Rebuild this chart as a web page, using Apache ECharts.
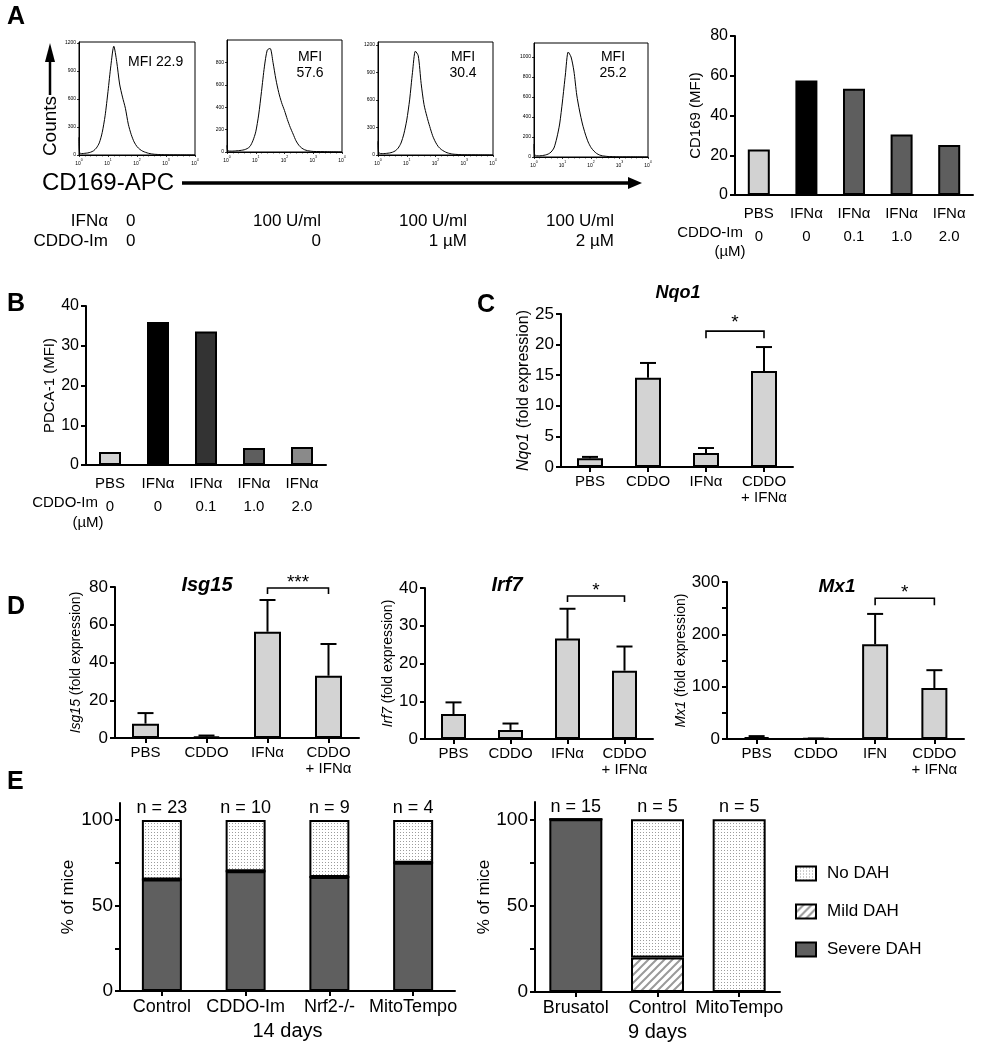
<!DOCTYPE html>
<html><head><meta charset="utf-8">
<script src="https://cdn.jsdelivr.net/npm/echarts@6/dist/echarts.min.js"></script>
<style>html,body{margin:0;padding:0;background:#fff}#c{width:982px;height:1050px}</style>
</head><body><div id="c"></div>
<script>
// ---------------- DATA ----------------
// Panel A histograms (x in log10 units of CD169-APC fluorescence, y = counts)
const histLogX = [0, 0.02, 0.1, 0.2, 0.3, 0.4, 0.5, 0.6, 0.7, 0.8, 0.9, 1.0, 1.1, 1.2, 1.3, 1.4, 1.5, 1.6, 1.7, 1.8, 1.9, 2.0, 2.1, 2.2, 2.3, 2.4, 2.5, 2.6, 2.7, 2.8, 2.9, 3.0, 3.5, 4.0];
const histPBS   = [190, 25, 15, 18, 22, 30, 45, 75, 130, 240, 420, 680, 960, 1165, 1000, 760, 620, 500, 330, 220, 140, 90, 60, 40, 28, 18, 12, 8, 6, 4, 3, 2, 1, 0];
const histIFN   = [60, 15, 8, 8, 10, 12, 15, 20, 30, 50, 100, 180, 330, 540, 760, 910, 925, 800, 650, 530, 440, 370, 290, 220, 160, 100, 60, 35, 20, 12, 8, 5, 2, 0];
const histCDDO1 = [150, 30, 15, 15, 18, 22, 30, 45, 75, 130, 230, 380, 600, 900, 1130, 1080, 780, 550, 420, 310, 210, 140, 90, 60, 40, 25, 16, 10, 7, 5, 3, 2, 1, 0];
const histCDDO2 = [130, 25, 12, 12, 15, 20, 30, 50, 90, 190, 330, 560, 820, 1050, 1000, 860, 620, 460, 330, 230, 150, 95, 60, 35, 20, 12, 8, 5, 4, 3, 2, 1, 1, 0];
const histYMax   = [1210, 1000, 1230, 1140];
const histYTicks = [[0, 300, 600, 900, 1200], [0, 200, 400, 600, 800], [0, 300, 600, 900, 1200], [0, 200, 400, 600, 800, 1000]];
const histXTicks = [0, 1, 2, 3, 4];
const histMFI    = ['MFI 22.9', 'MFI\n57.6', 'MFI\n30.4', 'MFI\n25.2'];
const aIFNrow    = ['0', '100 U/ml', '100 U/ml', '100 U/ml'];
const aCDDOrow   = ['0', '0', '1 µM', '2 µM'];

// Panel A bar chart & panel B
const abCats   = ['PBS', 'IFNα', 'IFNα', 'IFNα', 'IFNα'];
const abDose   = ['0', '0', '0.1', '1.0', '2.0'];
const aCD169   = [22.9, 57.6, 53.5, 30.4, 25.2];
const bPDCA1   = [3.3, 36.0, 33.6, 4.3, 4.5];
const aYTicks  = [0, 20, 40, 60, 80];
const bYTicks  = [0, 10, 20, 30, 40];

// Panel C
const cCats    = ['PBS', 'CDDO', 'IFNα', 'CDDO\n+ IFNα'];
const nqo1     = [1.45, 14.6, 2.3, 15.7];
const nqo1Err  = [0.2, 2.4, 0.8, 3.9];
const cBracket = [[2, 3, 22.2]];
const cStars   = ['*'];

// Panel D
const dCats    = ['PBS', 'CDDO', 'IFNα', 'CDDO\n+ IFNα'];
const d3Cats   = ['PBS', 'CDDO', 'IFN', 'CDDO\n+ IFNα'];
const isg15    = [7.6, 0.8, 56.3, 33.0];
const isg15Err = [5.6, 0.5, 16.8, 16.8];
const irf7     = [6.6, 2.4, 26.6, 18.1];
const irf7Err  = [3.1, 1.7, 7.9, 6.4];
const mx1      = [3.5, 0.6, 181, 97.5];
const mx1Err   = [2.0, 0.4, 58, 34];
const d1Bracket = [[2, 3, 79.5]]; const d1Stars = ['***'];
const d2Bracket = [[2, 3, 37.9]]; const d2Stars = ['*'];
const d3Bracket = [[2, 3, 269]];  const d3Stars = ['*'];

// Panel E
const eLeftCats   = ['Control', 'CDDO-Im', 'Nrf2-/-', 'MitoTempo'];
const eLeftSevere = [65.2, 70, 66.7, 75];
const eLeftMild   = [0, 0, 0, 0];
const eLeftNo     = [34.8, 30, 33.3, 25];
const eLeftN      = ['n = 23', 'n = 10', 'n = 9', 'n = 4'];
const eRightCats   = ['Brusatol', 'Control', 'MitoTempo'];
const eRightSevere = [100, 0, 0];
const eRightMild   = [0, 20, 0];
const eRightNo     = [0, 80, 100];
const eRightN      = ['n = 15', 'n = 5', 'n = 5'];
const eLegend      = ['No DAH', 'Mild DAH', 'Severe DAH'];

// ---------------- STYLE ----------------
const FONT = '"Liberation Sans", Arial, Helvetica, sans-serif';
const aColors = ['#d2d2d2', '#000000', '#5e5e5e', '#5e5e5e', '#5e5e5e'];
const bColors = ['#d2d2d2', '#000000', '#333333', '#5e5e5e', '#8a8a8a'];
const GRAYBAR = '#d3d3d3';
const SEVERE = '#5f5f5f';

function dotPattern() {
  const c = document.createElement('canvas'); c.width = 3; c.height = 3;
  const g = c.getContext('2d'); g.fillStyle = '#fff'; g.fillRect(0, 0, 3, 3);
  g.fillStyle = '#9c9c9c'; g.fillRect(1, 1, 1, 1); return c;
}
function hatchPattern() {
  const c = document.createElement('canvas'); c.width = 8; c.height = 8;
  const g = c.getContext('2d'); g.fillStyle = '#fff'; g.fillRect(0, 0, 8, 8);
  g.strokeStyle = '#9a9a9a'; g.lineWidth = 2;
  g.beginPath(); g.moveTo(-2, 10); g.lineTo(10, -2); g.moveTo(-2, 2); g.lineTo(2, -2); g.moveTo(6, 10); g.lineTo(10, 6); g.stroke();
  return c;
}
const DOTS = {image: dotPattern(), repeat: 'repeat'};
const HATCH = {image: hatchPattern(), repeat: 'repeat'};

// ---------------- LAYOUT ----------------
const grids = [
  {left: 79, top: 42, width: 116, height: 113},   // 0 hist PBS
  {left: 227, top: 40, width: 115, height: 112},  // 1 hist IFN
  {left: 378, top: 42, width: 115, height: 113},  // 2 hist IFN+CDDO 1
  {left: 534, top: 43, width: 114, height: 114},  // 3 hist IFN+CDDO 2
  {left: 735, top: 36, width: 238, height: 159},  // 4 A bar
  {left: 86, top: 306, width: 240, height: 159},  // 5 B
  {left: 561, top: 314, width: 232, height: 153}, // 6 C
  {left: 115, top: 587, width: 244, height: 151}, // 7 D1
  {left: 425, top: 588, width: 228, height: 151}, // 8 D2
  {left: 727, top: 582, width: 237, height: 157}, // 9 D3
  {left: 120, top: 803, width: 335, height: 188}, // 10 E left
  {left: 535, top: 802, width: 245, height: 190}  // 11 E right
].map((g, i) => Object.assign({outerBoundsMode: 'none', containLabel: false}, g,
   i < 4 ? {show: true, borderColor: '#000', borderWidth: 1} : {}));

const xAxes = [], yAxes = [], series = [];

// Histograms
const hists = [histPBS, histIFN, histCDDO1, histCDDO2];
hists.forEach((h, i) => {
  xAxes.push({type: 'value', gridIndex: i, min: 0, max: 4, interval: 1,
    axisLine: {show: true, onZero: false, lineStyle: {color: '#000', width: 1}},
    axisTick: {show: true, length: 2, lineStyle: {color: '#000', width: 0.8}},
    minorTick: {show: true, splitNumber: 5, length: 1.5, lineStyle: {color: '#000', width: 0.6}},
    axisLabel: {color: '#000', fontFamily: FONT, margin: 3, customValues: histXTicks,
      formatter: v => '{b|10}{s|' + v + '}',
      rich: {b: {fontSize: 5, fontFamily: FONT, lineHeight: 8, verticalAlign: 'bottom'},
             s: {fontSize: 3.5, fontFamily: FONT, lineHeight: 8, verticalAlign: 'top'}}},
    splitLine: {show: false}});
  yAxes.push({type: 'value', gridIndex: i, min: 0, max: histYMax[i],
    axisLine: {show: true, onZero: false, lineStyle: {color: '#000', width: 1}},
    axisTick: {show: true, length: 2, customValues: histYTicks[i], lineStyle: {color: '#000', width: 0.8}},
    axisLabel: {color: '#000', fontSize: 5, fontFamily: FONT, margin: 3, customValues: histYTicks[i], formatter: v => String(v)},
    splitLine: {show: false}});
  series.push({type: 'line', xAxisIndex: i, yAxisIndex: i, showSymbol: false, smooth: 0.25,
    data: histLogX.map((x, k) => [x, h[k]]), lineStyle: {color: '#000', width: 1}, silent: true});
});

function catX(grid, data, fontSize, ticks, extra) {
  return Object.assign({type: 'category', gridIndex: grid, data: data, boundaryGap: true,
    axisLine: {show: true, onZero: false, lineStyle: {color: '#000', width: 2}},
    axisTick: {show: ticks, alignWithLabel: true, length: 5, lineStyle: {color: '#000', width: 2}},
    axisLabel: {color: '#000', fontSize: fontSize, fontFamily: FONT, interval: 0, margin: 7, lineHeight: fontSize + 1},
    splitLine: {show: false}}, extra || {});
}
function valY(grid, max, ticks, fontSize, name, nameGap, nameSize, extra) {
  return Object.assign({type: 'value', gridIndex: grid, min: 0, max: max,
    axisLine: {show: true, onZero: false, lineStyle: {color: '#000', width: 2}},
    axisTick: {show: true, length: 5, lineStyle: {color: '#000', width: 2}},
    axisLabel: {color: '#000', fontSize: fontSize, fontFamily: FONT, margin: 7, customValues: ticks},
    splitLine: {show: false},
    name: name, nameLocation: 'middle', nameGap: nameGap, nameRotate: 90,
    nameTextStyle: {color: '#000', fontSize: nameSize, fontFamily: FONT,
      rich: {i: {fontStyle: 'italic', fontSize: nameSize, fontFamily: FONT, color: '#000'}}}}, extra || {});
}

// A bar (grid 4) and B (grid 5)
const doseLabel = (v, i) => v + '\n{d|' + abDose[i] + '}';
const doseAxisLabel = {color: '#000', fontSize: 15, fontFamily: FONT, interval: 0, margin: 7, lineHeight: 23, formatter: doseLabel,
  rich: {d: {fontSize: 15, fontFamily: FONT, lineHeight: 23, color: '#000'}}};
xAxes.push(catX(4, abCats, 15, false, {axisLabel: doseAxisLabel}));
yAxes.push(valY(4, 80, aYTicks, 16, 'CD169 (MFI)', 32, 15, {interval: 20}));
series.push({type: 'bar', xAxisIndex: 4, yAxisIndex: 4, barWidth: 22,
  data: aCD169.map((v, i) => ({value: v, itemStyle: {color: aColors[i]}})),
  itemStyle: {borderColor: '#000', borderWidth: 2}});
xAxes.push(catX(5, abCats, 15, false, {axisLabel: doseAxisLabel}));
yAxes.push(valY(5, 40, bYTicks, 16, 'PDCA-1 (MFI)', 26, 15, {interval: 10}));
series.push({type: 'bar', xAxisIndex: 5, yAxisIndex: 5, barWidth: 22,
  data: bPDCA1.map((v, i) => ({value: v, itemStyle: {color: bColors[i]}})),
  itemStyle: {borderColor: '#000', borderWidth: 2}});

// helper for error bars & brackets
function errorSeries(ai, means, errs) {
  return {type: 'custom', xAxisIndex: ai, yAxisIndex: ai, z: 3, silent: true,
    data: means.map((m, i) => [i, m, m + errs[i]]), encode: {x: 0, y: [1, 2]},
    renderItem: (params, api) => {
      const p0 = api.coord([api.value(0), api.value(1)]);
      const p1 = api.coord([api.value(0), api.value(2)]);
      const cap = 8;
      return {type: 'group', children: [
        {type: 'line', shape: {x1: p0[0], y1: p0[1], x2: p1[0], y2: p1[1]}, style: {stroke: '#000', lineWidth: 2}},
        {type: 'line', shape: {x1: p1[0] - cap, y1: p1[1], x2: p1[0] + cap, y2: p1[1]}, style: {stroke: '#000', lineWidth: 2}}]};
    }};
}
function bracketSeries(ai, brackets, stars, leg, starGap, starSize) {
  return {type: 'custom', xAxisIndex: ai, yAxisIndex: ai, z: 4, silent: true,
    data: brackets, encode: {x: [0, 1], y: 2},
    renderItem: (params, api) => {
      const a = api.coord([api.value(0), api.value(2)]);
      const b = api.coord([api.value(1), api.value(2)]);
      return {type: 'group', children: [
        {type: 'polyline', shape: {points: [[a[0], a[1] + leg], [a[0], a[1]], [b[0], b[1]], [b[0], b[1] + leg]]},
          style: {stroke: '#000', lineWidth: 1.6, fill: null}},
        {type: 'text', style: {text: stars[params.dataIndex], x: (a[0] + b[0]) / 2, y: a[1] - starGap,
          textAlign: 'center', textVerticalAlign: 'middle', fontSize: starSize, fontFamily: FONT, fill: '#000'}}]};
    }};
}
function grayBars(ai, vals, bw) {
  return {type: 'bar', xAxisIndex: ai, yAxisIndex: ai, barWidth: bw, data: vals, z: 2,
    itemStyle: {color: GRAYBAR, borderColor: '#000', borderWidth: 2}};
}

// C (grid 6)
xAxes.push(catX(6, cCats, 15, true));
yAxes.push(valY(6, 25, [0, 5, 10, 15, 20, 25], 17, '{i|Nqo1} (fold expression)', 29, 16, {interval: 5}));
series.push(grayBars(6, nqo1, 26), errorSeries(6, nqo1, nqo1Err), bracketSeries(6, cBracket, cStars, 7, 8, 19));

// D1, D2, D3 (grids 7,8,9)
xAxes.push(catX(7, dCats, 15, true));
yAxes.push(valY(7, 80, [0, 20, 40, 60, 80], 17, '{i|Isg15} (fold expression)', 32, 14, {interval: 20}));
series.push(grayBars(7, isg15, 27), errorSeries(7, isg15, isg15Err), bracketSeries(7, d1Bracket, d1Stars, 6, 5, 19));
xAxes.push(catX(8, dCats, 15, true));
yAxes.push(valY(8, 40, [0, 10, 20, 30, 40], 17, '{i|Irf7} (fold expression)', 30, 14, {interval: 10}));
series.push(grayBars(8, irf7, 25), errorSeries(8, irf7, irf7Err), bracketSeries(8, d2Bracket, d2Stars, 6, 5, 19));
xAxes.push(catX(9, d3Cats, 15, true));
const d3y = valY(9, 300, [0, 100, 200, 300], 17, '{i|Mx1} (fold expression)', 37, 14, {interval: 50});
d3y.axisTick.customValues = [0, 50, 100, 150, 200, 250, 300];
yAxes.push(d3y);
series.push(grayBars(9, mx1, 26), errorSeries(9, mx1, mx1Err), bracketSeries(9, d3Bracket, d3Stars, 7, 5, 19));

// E left (grid 10) and right (grid 11)
function eAxes(grid, cats, xname) {
  const x = catX(grid, cats, 18, true, {name: xname, nameLocation: 'middle', nameGap: 30,
    nameTextStyle: {color: '#000', fontSize: 20, fontFamily: FONT}});
  const y = valY(grid, 110, [0, 50, 100], 19, '% of mice', grid === 10 ? 43 : 38, 17, {interval: 25});
  y.axisTick.customValues = [0, 25, 50, 75, 100];
  xAxes.push(x); yAxes.push(y);
}
eAxes(10, eLeftCats, '14 days');
eAxes(11, eRightCats, '9 days');
function eSeries(ai, sev, mild, no, ns, bw) {
  const common = {type: 'bar', xAxisIndex: ai, yAxisIndex: ai, barWidth: bw, stack: 'e' + ai};
  series.push(Object.assign({name: 'Severe DAH', data: sev, itemStyle: {color: SEVERE, borderColor: '#000', borderWidth: 2}}, common));
  series.push(Object.assign({name: 'Mild DAH', data: mild, itemStyle: {color: HATCH, borderColor: '#000', borderWidth: 2}}, common));
  series.push(Object.assign({name: 'No DAH', data: no, itemStyle: {color: DOTS, borderColor: '#000', borderWidth: 2}}, common));
  series.push({type: 'scatter', xAxisIndex: ai, yAxisIndex: ai, symbolSize: 0, silent: true,
    itemStyle: {opacity: 1, color: '#000'},
    data: ns.map((n, i) => [i, 100]),
    label: {show: true, position: 'top', distance: 3, formatter: p => ns[p.dataIndex], color: '#000',
      textBorderWidth: 0, opacity: 1, fontSize: 18, fontFamily: FONT}});
}
eSeries(10, eLeftSevere, eLeftMild, eLeftNo, eLeftN, 40);
eSeries(11, eRightSevere, eRightMild, eRightNo, eRightN, 53);

// ---------------- TEXT / ANNOTATIONS ----------------
const T = (text, x, y, size, opt) => Object.assign({type: 'text', silent: true,
  style: Object.assign({text: text, x: x, y: y, fill: '#000', fontSize: size, fontFamily: FONT,
    textAlign: 'left', textVerticalAlign: 'middle'}, opt || {})});
const letter = (t, x, y) => T(t, x, y, 25, {fontWeight: 'bold'});
const gfx = [
  letter('A', 7, 17), letter('B', 7, 304), letter('C', 477, 305), letter('D', 7, 607), letter('E', 7, 782),
  // Counts arrow
  {type: 'polygon', silent: true, shape: {points: [[45, 62], [50, 43], [55, 62]]}, style: {fill: '#000'}},
  {type: 'line', silent: true, shape: {x1: 50, y1: 60, x2: 50, y2: 95}, style: {stroke: '#000', lineWidth: 2.5}},
  {type: 'text', silent: true, x: 51, y: 126, rotation: Math.PI / 2,
    style: {text: 'Counts', x: 0, y: 0, fill: '#000', fontSize: 19, fontFamily: FONT, textAlign: 'center', textVerticalAlign: 'middle'}},
  // CD169-APC arrow
  T('CD169-APC', 42, 183, 24),
  {type: 'line', silent: true, shape: {x1: 182, y1: 183, x2: 630, y2: 183}, style: {stroke: '#000', lineWidth: 3.5}},
  {type: 'polygon', silent: true, shape: {points: [[628, 177], [642, 183], [628, 189]]}, style: {fill: '#000'}},
  // MFI labels
  T(histMFI[0], 128, 62, 14),
  T(histMFI[1], 310, 65, 14, {textAlign: 'center', lineHeight: 16}),
  T(histMFI[2], 463, 65, 14, {textAlign: 'center', lineHeight: 16}),
  T(histMFI[3], 613, 65, 14, {textAlign: 'center', lineHeight: 16}),
  // treatment rows under histograms
  T('IFNα', 108, 221, 17, {textAlign: 'right'}), T('CDDO-Im', 108, 241, 17, {textAlign: 'right'}),
  T(aIFNrow[0], 126, 221, 17), T(aCDDOrow[0], 126, 241, 17),
  T(aIFNrow[1], 321, 221, 17, {textAlign: 'right'}), T(aCDDOrow[1], 321, 241, 17, {textAlign: 'right'}),
  T(aIFNrow[2], 467, 221, 17, {textAlign: 'right'}), T(aCDDOrow[2], 467, 241, 17, {textAlign: 'right'}),
  T(aIFNrow[3], 614, 221, 17, {textAlign: 'right'}), T(aCDDOrow[3], 614, 241, 17, {textAlign: 'right'}),
  // dose row captions
  T('CDDO-Im', 743, 233, 15, {textAlign: 'right'}), T('(µM)', 730, 252, 15, {textAlign: 'center'}),
  T('CDDO-Im', 98, 503, 15, {textAlign: 'right'}), T('(µM)', 88, 523, 15, {textAlign: 'center'}),
  // gene titles
  T('Nqo1', 678, 293, 18, {textAlign: 'center', fontWeight: 'bold', fontStyle: 'italic'}),
  T('Isg15', 207, 585, 20, {textAlign: 'center', fontWeight: 'bold', fontStyle: 'italic'}),
  T('Irf7', 507, 585, 20, {textAlign: 'center', fontWeight: 'bold', fontStyle: 'italic'}),
  T('Mx1', 837, 587, 19, {textAlign: 'center', fontWeight: 'bold', fontStyle: 'italic'})
];

const chart = echarts.init(document.getElementById('c'), null, {renderer: 'canvas'});
chart.setOption({
  animation: false,
  backgroundColor: '#fff',
  textStyle: {fontFamily: FONT},
  grid: grids,
  xAxis: xAxes,
  yAxis: yAxes,
  legend: {data: eLegend, orient: 'vertical', left: 795, top: 865, padding: 0, icon: 'rect',
    itemWidth: 20, itemHeight: 14, itemGap: 21, selectedMode: false,
    itemStyle: {borderColor: '#000', borderWidth: 2},
    textStyle: {color: '#000', fontSize: 17, fontFamily: FONT, padding: [0, 0, 0, 6]}},
  series: series,
  graphic: {elements: gfx}
});
</script></body></html>
